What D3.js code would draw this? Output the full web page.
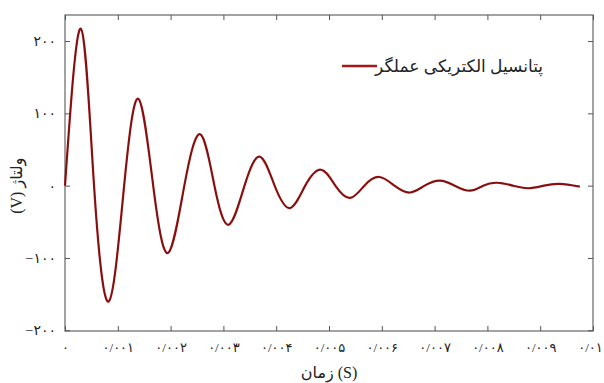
<!DOCTYPE html>
<html>
<head>
<meta charset="utf-8">
<script src="https://cdn.jsdelivr.net/npm/d3@7"></script>
<style>
  body { margin: 0; background: #fff; }
  text { font-family: "Liberation Serif", "DejaVu Sans", serif; fill: #222; }
</style>
</head>
<body>
<script>
// damped voltage (extremes and zero crossings)
var times = [0, 0.0003, 0.00055, 0.00083,
  0.00112, 0.00139, 0.00167, 0.00195, 0.00226, 0.00256, 0.00283, 0.0031, 0.0034,
  0.00369, 0.00397, 0.00426, 0.00455, 0.00485, 0.00512, 0.0054, 0.00567, 0.00595,
  0.00624, 0.00653, 0.00681, 0.0071, 0.00738, 0.00767, 0.00792, 0.00818, 0.00848,
  0.00877, 0.00907, 0.00937, 0.00975];
var volts = [0, 217, 0, -160,
  0, 120, 0, -93, 0, 71, 0, -54, 0,
  40, 0, -31, 0, 22, 0, -17, 0, 12,
  0, -9.5, 0, 7, 0, -7, 0, 4, 0,
  -3.6, 0, 2.4, -1.4];
var xTicks = [0, 0.001, 0.002, 0.003, 0.004, 0.005, 0.006, 0.007, 0.008, 0.009, 0.01];
var yTicks = [-200, -100, 0, 100, 200];
var seriesName = "پتانسیل الکتریکی عملگر";
var xTitle = "زمان (S)";
var yTitle = "ولتاژ (V)";

var width = 604, height = 383;
var pLeft = 65, pRight = 593, pTop = 15, pBottom = 331;

var svg = d3.select("body").append("svg")
    .attr("width", width)
    .attr("height", height);

var x = d3.scaleLinear().domain([0, 0.01]).range([pLeft, pRight]);
var y = d3.scaleLinear().domain([-201, 236]).range([pBottom, pTop]);

var fa = "۰۱۲۳۴۵۶۷۸۹";
function persian(s) {
  return String(s).replace(/[0-9]/g, function(d) { return fa[+d]; })
    .replace(".", "/").replace("-", "\u2212");
}

// frame
svg.append("rect")
  .attr("x", pLeft).attr("y", pTop)
  .attr("width", pRight - pLeft).attr("height", pBottom - pTop)
  .attr("fill", "none").attr("stroke", "#666").attr("stroke-width", 1.2);

var axStyle = function(g) {
  g.select(".domain").remove();
  g.selectAll("line").attr("stroke", "#555");
  g.selectAll("text").attr("font-size", 14).attr("fill", "#222");
};

var xAx = svg.append("g").attr("transform", "translate(0," + pBottom + ")")
  .call(d3.axisBottom(x).tickValues(xTicks).tickSizeInner(-5).tickSizeOuter(0).tickPadding(12)
    .tickFormat(function(d) { return persian(d3.format("")(+d.toFixed(3))); }))
  .call(axStyle);
xAx.selectAll("text").attr("font-size", 13);
xAx.selectAll(".tick").filter(function(d) { return d === 0.01; })
  .select("text").attr("dx", -3);

svg.append("g").attr("transform", "translate(0," + pTop + ")")
  .call(d3.axisTop(x).tickValues(xTicks).tickSizeInner(-5).tickSizeOuter(0).tickFormat(""))
  .call(axStyle);

svg.append("g").attr("transform", "translate(" + pLeft + ",0)")
  .call(d3.axisLeft(y).tickValues(yTicks).tickSizeInner(-5).tickSizeOuter(0).tickPadding(9)
    .tickFormat(function(d) { return persian(d); }))
  .call(axStyle);

svg.append("g").attr("transform", "translate(" + pRight + ",0)")
  .call(d3.axisRight(y).tickValues(yTicks).tickSizeInner(-5).tickSizeOuter(0).tickFormat(""))
  .call(axStyle);

// the curve
var pts = times.map(function(t, i) { return [t, volts[i]]; });
var line = d3.line()
  .x(function(d) { return x(d[0]); })
  .y(function(d) { return y(d[1]); })
  .curve(d3.curveNatural);

svg.append("path")
  .datum(pts)
  .attr("d", line)
  .attr("fill", "none")
  .attr("stroke", "#9a1414")
  .attr("stroke-width", 2.2);

svg.append("path")
  .datum(pts)
  .attr("d", line)
  .attr("fill", "none")
  .attr("stroke", "#3a0808")
  .attr("stroke-width", 0.6)
  .attr("opacity", 0.6);

// legend
svg.append("line")
  .attr("x1", 342).attr("x2", 377)
  .attr("y1", 66).attr("y2", 66)
  .attr("stroke", "#a81818").attr("stroke-width", 2.5);
svg.append("text")
  .attr("x", 543).attr("y", 72)
  .attr("text-anchor", "end")
  .attr("font-size", 17)
  .text(seriesName);

// axis titles
svg.append("text")
  .attr("x", (pLeft + pRight) / 2).attr("y", 378)
  .attr("text-anchor", "middle")
  .attr("font-size", 16)
  .text(xTitle);

svg.append("text")
  .attr("transform", "translate(22," + y(0) + ") rotate(-90)")
  .attr("text-anchor", "middle")
  .attr("direction", "rtl")
  .attr("font-size", 16)
  .text(yTitle);
</script>
</body>
</html>
